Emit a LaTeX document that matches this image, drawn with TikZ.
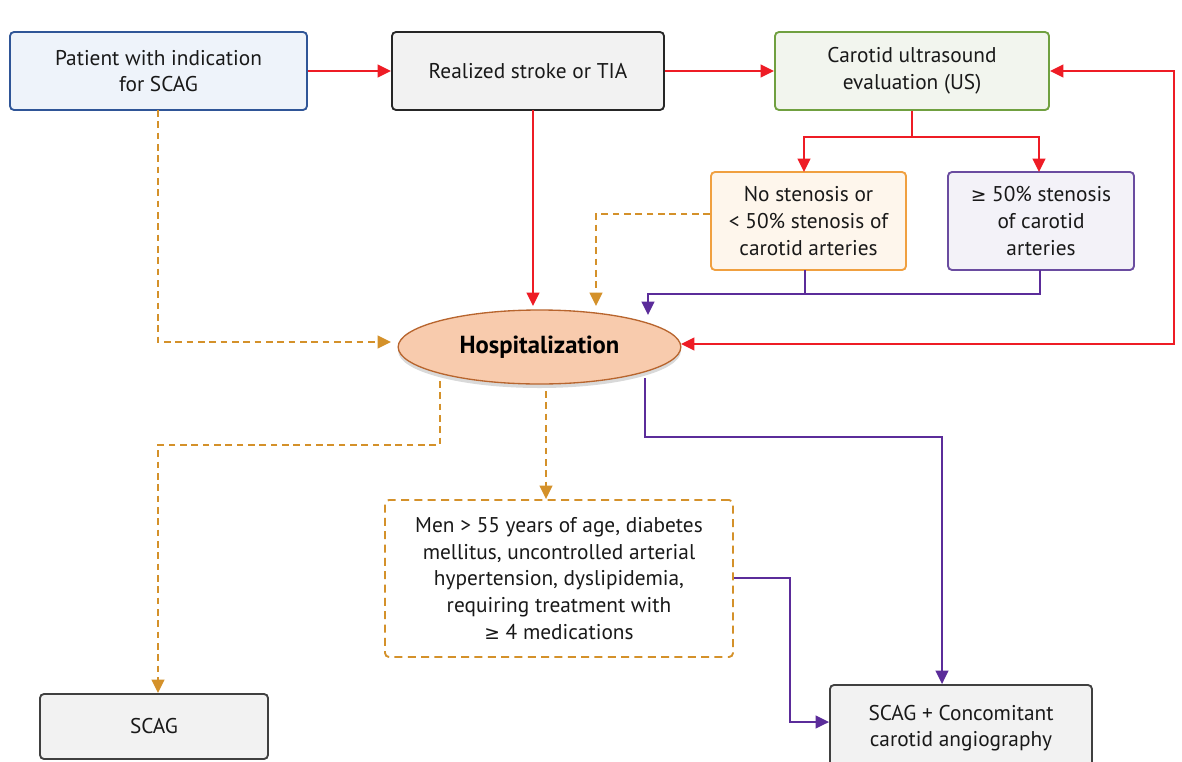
\documentclass[tikz,border=0pt]{standalone}
\usepackage{fontspec}
\setmainfont{PT Sans}
\newfontfamily\symf{DejaVu Sans}
\newcommand{\mygeq}{{\symf\fontsize{14}{17}\selectfont ≥}}
\usetikzlibrary{arrows.meta,shapes.geometric,shadows}
\definecolor{cred}{HTML}{EE1C25}
\definecolor{corange}{HTML}{D4912A}
\definecolor{cpurple}{HTML}{5B2C9A}
\definecolor{bluebd}{HTML}{2F5597}
\definecolor{bluefl}{HTML}{EEF3FA}
\definecolor{grayfl}{HTML}{F2F2F2}
\definecolor{greenbd}{HTML}{70A040}
\definecolor{greenfl}{HTML}{F2F5EE}
\definecolor{orangebd}{HTML}{F0A040}
\definecolor{orangefl}{HTML}{FEF6EC}
\definecolor{purplebd}{HTML}{6A4CA0}
\definecolor{purplefl}{HTML}{F3F2F8}
\definecolor{hospfl}{HTML}{F8CBAD}
\definecolor{hospbd}{HTML}{B8652E}
\tikzset{
  box/.style={draw, rounded corners=3pt, line width=1.4pt, align=center, inner sep=2pt, text=black!90, font=\fontsize{16}{20}\selectfont},
  redline/.style={draw=cred, line width=1.4pt, -{Triangle[length=10pt,width=9.5pt]}},
  orline/.style={draw=corange, line width=1.4pt, dash pattern=on 5pt off 3.5pt, -{Triangle[length=10pt,width=9.5pt]}},
  puline/.style={draw=cpurple, line width=1.4pt, -{Triangle[length=10pt,width=9.5pt]}},
}
\begin{document}
\begin{tikzpicture}[x=0.75pt,y=-0.75pt]
\useasboundingbox (0,0) rectangle (1182,761);
\clip (0,0) rectangle (1182,761);
\fill[white] (0,0) rectangle (1182,761);

\node[box, draw=bluebd, fill=bluefl, minimum width=222.75pt, minimum height=58.5pt] (pat) at (158.5,71) {Patient with indication\\for SCAG};
\node[box, draw=black!85, fill=grayfl, minimum width=204pt, minimum height=58.5pt] (str) at (528,71) {Realized stroke or TIA};
\node[box, draw=greenbd, fill=greenfl, minimum width=205.5pt, minimum height=58.5pt] (us) at (912,71) {Carotid ultrasound\\evaluation (US)};
\node[box, draw=orangebd, fill=orangefl, minimum width=146.25pt, minimum height=73.5pt] (nos) at (808.5,221) {No stenosis or\\< 50\% stenosis of\\carotid arteries};
\node[box, draw=purplebd, fill=purplefl, minimum width=139.5pt, minimum height=73.5pt] (ge) at (1041,221) {\mygeq{} 50\% stenosis\\of carotid\\arteries};
\node[ellipse, draw=hospbd, fill=hospfl, line width=1pt, minimum width=212pt, minimum height=55.5pt,
  drop shadow={shadow xshift=0pt, shadow yshift=-3pt, fill=black!15, opacity=1},
  font=\fontsize{18.5}{22}\selectfont\bfseries] (hosp) at (539.5,347) {Hospitalization};
\node[box, draw=corange, fill=white, dash pattern=on 6pt off 4pt, minimum width=261pt, minimum height=117.75pt] (men) at (559,578.5) {Men > 55 years of age, diabetes\\mellitus, uncontrolled arterial\\hypertension, dyslipidemia,\\requiring treatment with\\\mygeq{} 4 medications};
\node[box, draw=black!75, fill=grayfl, minimum width=171pt, minimum height=48.75pt] (scag) at (154,726.5) {SCAG};
\node[box, draw=black!75, fill=grayfl, minimum width=196.5pt, minimum height=64.5pt] (conc) at (961,728) {SCAG + Concomitant\\carotid angiography};

% red flow
\draw[redline] (pat.east) -- (str.west);
\draw[redline] (str.east) -- (us.west);
\coordinate (br) at (912,137);
\draw[redline] (us.south) -- (br) -| (804,172);
\draw[redline] (br) -| (1039,172);
\draw[redline] (533,110) -- (533,306);
\coordinate (rc) at (1174,206);
\draw[redline] (rc) |- (us.east);
\draw[redline] (rc) |- (681,344);

% orange dashed
\draw[orline] (nos.west |- 0,214) -- (596,214) -- (596,306);
\draw[orline] (158,110) |- (391,342);
\draw[orline] (440,381) |- (158,445) -- (scag.north -| 158,0);
\draw[orline] (546,391) -- (men.north -| 546,0);

% purple
\draw[puline] (805,270) |- (1040,294) (1040,270) -- (1040,294) -| (648,315);
\draw[puline] (645,378) |- (942,437) -- (conc.north -| 942,0);
\draw[puline] (men.east |- 0,578) -- (790,578) |- (conc.west |- 0,722);
\end{tikzpicture}
\end{document}
